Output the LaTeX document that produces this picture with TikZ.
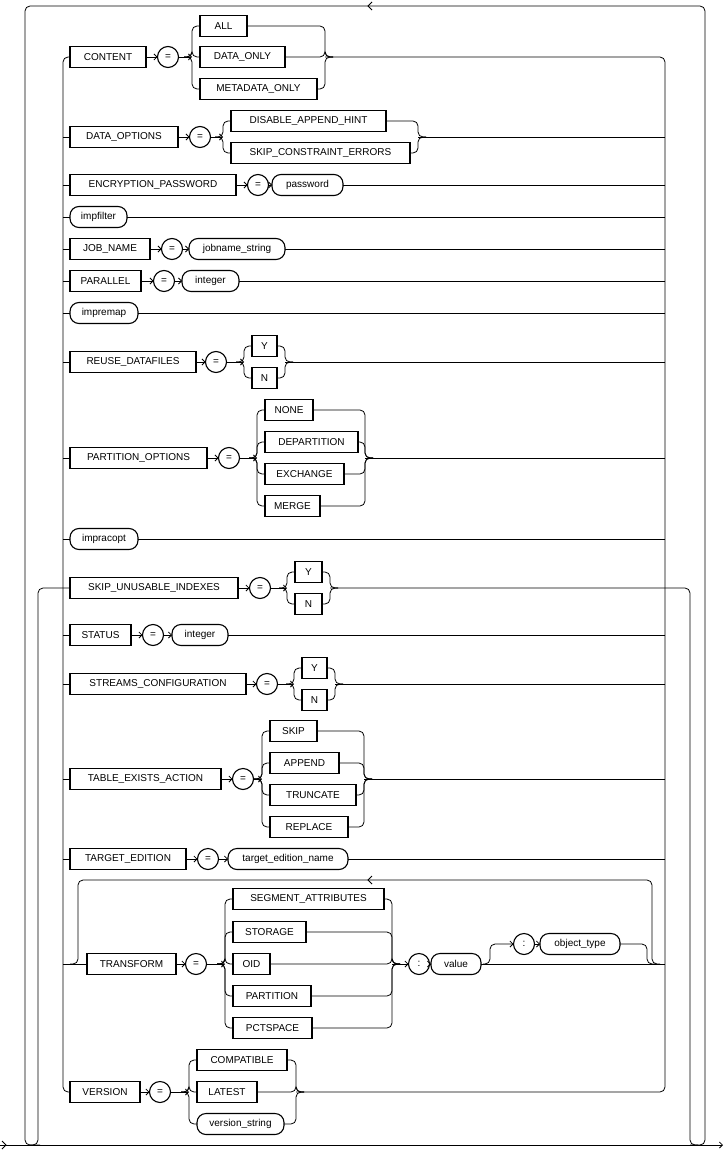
\documentclass[tikz,border=0pt]{standalone}
\usepackage{fontspec}
\setmainfont{Liberation Sans}
\usetikzlibrary{arrows.meta}
\tikzset{
  >={Straight Barb[length=3pt,width=6pt]},
  base/.style={draw,line width=1.1pt,outer sep=0pt,inner sep=0pt,minimum height=21pt,font=\fontsize{10}{12}\selectfont},
  kbox/.style={base,anchor=west},
  obox/.style={base,anchor=west,rounded corners=9pt},
  cbox/.style={base,circle,minimum size=21pt},
  rc/.style={rounded corners=5pt},
  every path/.style={line width=0.8pt}
}
\newcommand\Kw[5]{\node[kbox,minimum width={(#3-#2)*1pt}] (#1) at (#2,#4) {#5};}
\newcommand\Ov[5]{\node[obox,minimum width={(#3-#2)*1pt}] (#1) at (#2,#4) {#5};}
\newcommand\Eq[4]{\node[cbox] (#1) at (#2,#3) {#4};}
\newcommand\BL[3]{\draw[rc] (#1-8,#2) -- (#1,#2) |- (#3.west);}
\newcommand\BR[3]{\draw[rc] (#3.east) -| (#1,#2) -- (#1+8,#2);}
\begin{document}
\begin{tikzpicture}[x=1pt,y=-1pt]
\useasboundingbox (0,0) rectangle (723,1150);
% main line and outer loop
\draw[->] (0,1145) -- (723,1145);
\draw (2,1141) -- (6,1145) -- (2,1149);
\draw[rc] (690,1145) -- (705,1145) -- (705,6) -- (25,6) -- (25,1145) -- (40,1145);
\draw (372,2) -- (368,6) -- (372,10);
% CONTENT
\Kw{content}{70}{146}{57}{CONTENT}
\Eq{eqa}{168}{57}{=}
\Kw{all}{200}{247}{26}{ALL}
\Kw{dataonly}{200}{285}{57}{DATA\_ONLY}
\Kw{metaonly}{200}{317}{89}{METADATA\_ONLY}
\draw[->] (content.east) -- (eqa.west);
\draw[->] (eqa.east) -- (192,57);
\BL{192}{57}{all}\BL{192}{57}{dataonly}\BL{192}{57}{metaonly}
\BR{325}{57}{all}\BR{325}{57}{dataonly}\BR{325}{57}{metaonly}
% group rails
\Kw{version}{70}{140}{1092}{VERSION}
\draw[rc] (content.west) -- (63,57) -- (63,1092) -- (version.west);
\draw[rc] (325,57) -- (665,57) -- (665,1092) -- (296,1092);
% DATA_OPTIONS
\Kw{dataopt}{70}{178}{137}{DATA\_OPTIONS}
\Eq{eqb}{200}{137}{=}
\Kw{disable}{231}{386}{121}{DISABLE\_APPEND\_HINT}
\Kw{skipce}{231}{410}{153}{SKIP\_CONSTRAINT\_ERRORS}
\draw (63,137) -- (dataopt.west);
\draw[->] (dataopt.east) -- (eqb.west);
\draw[->] (eqb.east) -- (223,137);
\BL{223}{137}{disable}\BL{223}{137}{skipce}
\BR{418}{137}{disable}\BR{418}{137}{skipce}
\draw (418,137) -- (665,137);
% ENCRYPTION_PASSWORD
\Kw{encr}{70}{236}{185}{ENCRYPTION\_PASSWORD}
\Eq{eqc}{258}{185}{=}
\Ov{password}{272}{343}{185}{password}
\draw (63,185) -- (encr.west);
\draw[->] (encr.east) -- (eqc.west);
\draw[->] (eqc.east) -- (password.west);
\draw (password.east) -- (665,185);
% impfilter
\Ov{impfilter}{70}{127}{217}{impfilter}
\draw (63,217) -- (impfilter.west);
\draw (impfilter.east) -- (665,217);
% JOB_NAME
\Kw{jobname}{70}{150}{249}{JOB\_NAME}
\Eq{eqd}{172}{249}{=}
\Ov{jobstr}{189}{285}{249}{jobname\_string}
\draw (63,249) -- (jobname.west);
\draw[->] (jobname.east) -- (eqd.west);
\draw[->] (eqd.east) -- (jobstr.west);
\draw (jobstr.east) -- (665,249);
% PARALLEL
\Kw{parallel}{70}{141}{281}{PARALLEL}
\Eq{eqe}{164}{281}{=}
\Ov{intA}{182}{239}{281}{integer}
\draw (63,281) -- (parallel.west);
\draw[->] (parallel.east) -- (eqe.west);
\draw[->] (eqe.east) -- (intA.west);
\draw (intA.east) -- (665,281);
% impremap
\Ov{impremap}{70}{138}{313}{impremap}
\draw (63,313) -- (impremap.west);
\draw (impremap.east) -- (665,313);
% REUSE_DATAFILES
\Kw{reuse}{70}{196}{362}{REUSE\_DATAFILES}
\Eq{eqf}{216}{362}{=}
\Kw{ya}{252}{277}{346}{Y}
\Kw{na}{252}{277}{378}{N}
\draw (63,362) -- (reuse.west);
\draw[->] (reuse.east) -- (eqf.west);
\draw[->] (eqf.east) -- (244,362);
\BL{244}{362}{ya}\BL{244}{362}{na}
\BR{285}{362}{ya}\BR{285}{362}{na}
\draw (285,362) -- (665,362);
% PARTITION_OPTIONS
\Kw{partopt}{70}{207}{458}{PARTITION\_OPTIONS}
\Eq{eqg}{229}{458}{=}
\Kw{none}{265}{313}{410}{NONE}
\Kw{depart}{265}{358}{442}{DEPARTITION}
\Kw{exch}{265}{344}{474}{EXCHANGE}
\Kw{merge}{265}{320}{506}{MERGE}
\draw (63,458) -- (partopt.west);
\draw[->] (partopt.east) -- (eqg.west);
\draw[->] (eqg.east) -- (257,458);
\BL{257}{458}{none}\BL{257}{458}{depart}\BL{257}{458}{exch}\BL{257}{458}{merge}
\BR{365}{458}{none}\BR{365}{458}{depart}\BR{365}{458}{exch}\BR{365}{458}{merge}
\draw (365,458) -- (665,458);
% impracopt
\Ov{impracopt}{70}{138}{539}{impracopt}
\draw (63,539) -- (impracopt.west);
\draw (impracopt.east) -- (665,539);
% SKIP_UNUSABLE_INDEXES
\Kw{skipui}{70}{238}{588}{SKIP\_UNUSABLE\_INDEXES}
\Eq{eqh}{260}{588}{=}
\Kw{yb}{295}{322}{572}{Y}
\Kw{nb}{295}{322}{604}{N}
\draw[rc] (30,1145) -- (38,1145) -- (38,588) -- (skipui.west);
\draw[->] (skipui.east) -- (eqh.west);
\draw[->] (eqh.east) -- (287,588);
\BL{287}{588}{yb}\BL{287}{588}{nb}
\BR{330}{588}{yb}\BR{330}{588}{nb}
\draw[rc] (330,588) -- (690,588) -- (690,1145) -- (698,1145);
% STATUS
\Kw{status}{70}{131}{635}{STATUS}
\Eq{eqi}{153}{635}{=}
\Ov{intB}{172}{228}{635}{integer}
\draw (63,635) -- (status.west);
\draw[->] (status.east) -- (eqi.west);
\draw[->] (eqi.east) -- (intB.west);
\draw (intB.east) -- (665,635);
% STREAMS_CONFIGURATION
\Kw{streams}{70}{246}{684}{STREAMS\_CONFIGURATION}
\Eq{eqj}{267}{684}{=}
\Kw{yc}{302}{327}{668}{Y}
\Kw{nc}{302}{327}{700}{N}
\draw (63,684) -- (streams.west);
\draw[->] (streams.east) -- (eqj.west);
\draw[->] (eqj.east) -- (294,684);
\BL{294}{684}{yc}\BL{294}{684}{nc}
\BR{335}{684}{yc}\BR{335}{684}{nc}
\draw (335,684) -- (665,684);
% TABLE_EXISTS_ACTION
\Kw{tea}{70}{221}{779}{TABLE\_EXISTS\_ACTION}
\Eq{eqk}{243}{779}{=}
\Kw{skip}{270}{317}{731}{SKIP}
\Kw{append}{270}{339}{763}{APPEND}
\Kw{truncate}{270}{356}{795}{TRUNCATE}
\Kw{replace}{270}{348}{827}{REPLACE}
\draw (63,779) -- (tea.west);
\draw[->] (tea.east) -- (eqk.west);
\draw[->] (eqk.east) -- (262,779);
\BL{262}{779}{skip}\BL{262}{779}{append}\BL{262}{779}{truncate}\BL{262}{779}{replace}
\BR{364}{779}{skip}\BR{364}{779}{append}\BR{364}{779}{truncate}\BR{364}{779}{replace}
\draw (364,779) -- (665,779);
% TARGET_EDITION
\Kw{target}{70}{186}{859}{TARGET\_EDITION}
\Eq{eql}{208}{859}{=}
\Ov{tename}{228}{348}{859}{target\_edition\_name}
\draw (63,859) -- (target.west);
\draw[->] (target.east) -- (eql.west);
\draw[->] (eql.east) -- (tename.west);
\draw (tename.east) -- (665,859);
% TRANSFORM
\Kw{transform}{87}{176}{964}{TRANSFORM}
\Eq{eqm}{196}{964}{=}
\Kw{segattr}{233}{384}{899}{SEGMENT\_ATTRIBUTES}
\Kw{storage}{233}{306}{932}{STORAGE}
\Kw{oid}{233}{270}{964}{OID}
\Kw{partition}{233}{311}{996}{PARTITION}
\Kw{pctspace}{233}{312}{1028}{PCTSPACE}
\Eq{colon}{419}{964}{:}
\Ov{value}{431}{481}{964}{value}
\Eq{colonb}{524}{944}{:}
\Ov{objtype}{540}{620}{944}{object\_type}
\draw (63,964) -- (transform.west);
\draw[rc] (70,964) -- (78,964) -- (78,880) -- (652,880) -- (652,964) -- (660,964);
\draw (372,876) -- (368,880) -- (372,884);
\draw[->] (transform.east) -- (eqm.west);
\draw[->] (eqm.east) -- (225,964);
\BL{225}{964}{segattr}\BL{225}{964}{storage}\BL{225}{964}{oid}\BL{225}{964}{partition}\BL{225}{964}{pctspace}
\BR{392}{964}{segattr}\BR{392}{964}{storage}\BR{392}{964}{oid}\BR{392}{964}{partition}\BR{392}{964}{pctspace}
\draw[->] (392,964) -- (colon.west);
\draw[->] (colon.east) -- (value.west);
\draw (value.east) -- (665,964);
\draw[rc,->] (483,964) -- (490,964) -- (490,944) -- (colonb.west);
\draw[->] (colonb.east) -- (objtype.west);
\draw[rc] (objtype.east) -- (647,944) -- (647,964) -- (655,964);
% VERSION
\Eq{eqn}{160}{1092}{=}
\Kw{compat}{197}{287}{1060}{COMPATIBLE}
\Kw{latest}{197}{257}{1092}{LATEST}
\Ov{verstr}{197}{284}{1124}{version\_string}
\draw[->] (version.east) -- (eqn.west);
\draw[->] (eqn.east) -- (189,1092);
\BL{189}{1092}{compat}\BL{189}{1092}{latest}\BL{189}{1092}{verstr}
\BR{296}{1092}{compat}\BR{296}{1092}{latest}\BR{296}{1092}{verstr}
\end{tikzpicture}
\end{document}
